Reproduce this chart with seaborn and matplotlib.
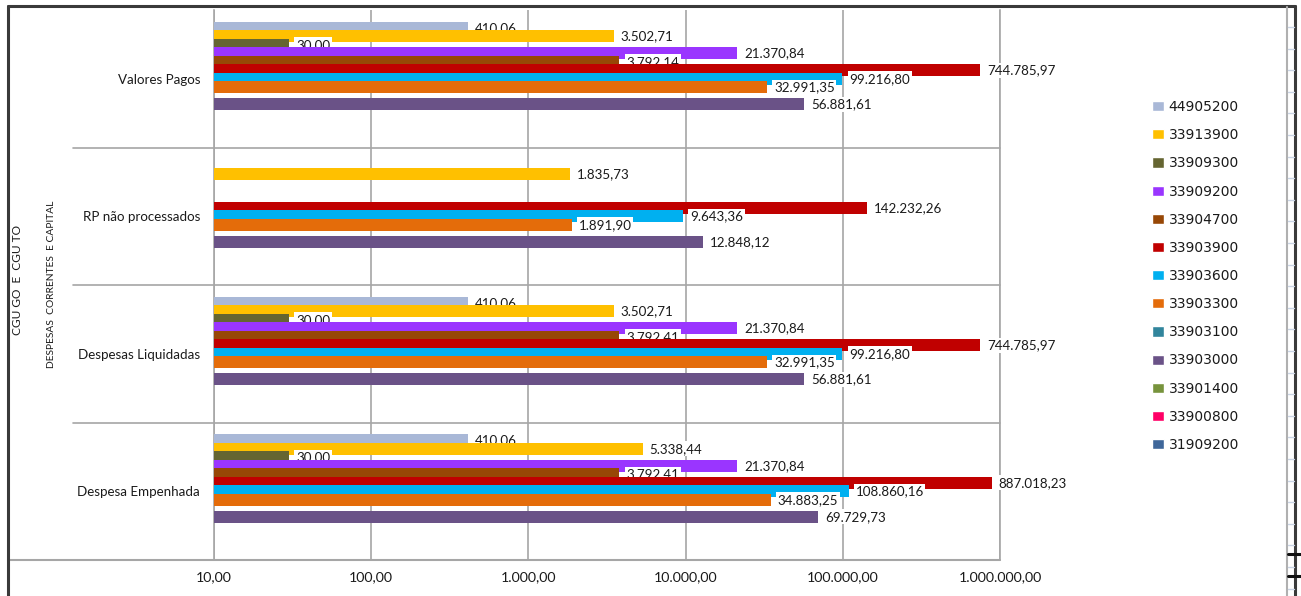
import numpy as np
import pandas as pd
import matplotlib
matplotlib.use("Agg")
import matplotlib.pyplot as plt
from matplotlib.colors import to_rgb
from matplotlib.lines import Line2D
from matplotlib.ticker import FixedLocator, FuncFormatter, NullLocator
import seaborn as sns

# ---- data -------------------------------------------------------------
categorias = ["Valores Pagos", "RP não processados",
              "Despesas Liquidadas", "Despesa Empenhada"]

contas = ["44905200", "33913900", "33909300", "33909200", "33904700",
          "33903900", "33903600", "33903300", "33903100", "33903000",
          "33901400", "33900800", "31909200"]

cores = ["#A9B8D7", "#FFC000", "#656531", "#9A35FF", "#974706",
         "#C00000", "#00B0F0", "#E46C0A", "#31859C", "#6A5287",
         "#77933C", "#FF0066", "#3F679A"]

# one list per account: values for each category (None = no value)
v_44905200 = [410.06, None, 410.06, 410.06]
v_33913900 = [3502.71, 1835.73, 3502.71, 5338.44]
v_33909300 = [30.00, None, 30.00, 30.00]
v_33909200 = [21370.84, None, 21370.84, 21370.84]
v_33904700 = [3792.14, None, 3792.41, 3792.41]
v_33903900 = [744785.97, 142232.26, 744785.97, 887018.23]
v_33903600 = [99216.80, 9643.36, 99216.80, 108860.16]
v_33903300 = [32991.35, 1891.90, 32991.35, 34883.25]
v_33903100 = [None, None, None, None]
v_33903000 = [56881.61, 12848.12, 56881.61, 69729.73]
v_33901400 = [None, None, None, None]
v_33900800 = [None, None, None, None]
v_31909200 = [None, None, None, None]

valores = [v_44905200, v_33913900, v_33909300, v_33909200, v_33904700,
           v_33903900, v_33903600, v_33903300, v_33903100, v_33903000,
           v_33901400, v_33900800, v_31909200]

ticks_x = [10, 100, 1000, 10000, 100000, 1000000]

rows = []
for conta, vals in zip(contas, valores):
    for cat, v in zip(categorias, vals):
        if v is not None:
            rows.append({"categoria": cat, "conta": conta, "valor": v})
df = pd.DataFrame(rows)


def br(v, _pos=None):
    s = f"{v:,.2f}"
    return s.replace(",", "X").replace(".", ",").replace("X", ".")


# ---- figure -----------------------------------------------------------
sns.set_style("white")
plt.rcParams["font.family"] = ["Lato", "DejaVu Sans"]

W, H = 1301, 596
fig = plt.figure(figsize=(W / 100, H / 100), dpi=100)
fig.patch.set_facecolor("white")
ax = fig.add_axes([214 / W, 1 - 560 / H, 786 / W, 550 / H])

n = len(contas)
passo = 0.0617
sns.barplot(data=df, y="categoria", x="valor", hue="conta",
            order=categorias, hue_order=contas, palette=cores,
            orient="h", width=n * passo, log_scale=True,
            saturation=1, errorbar=None, ax=ax, legend=True)

ax.set_xlim(10, 1_000_000)
ax.set_ylim(3.5, -0.5)


def indice_da_serie(container):
    """Series index of a bar container, identified by its fill colour."""
    cor = np.array(to_rgb(container.patches[0].get_facecolor()))
    dist = [np.abs(cor - np.array(to_rgb(c))).sum() for c in cores]
    return int(np.argmin(dist))


# thicker, overlapping bars; lower series sit over the upper ones.
# bars start at 1 (left of the visible range) so the log axis can draw them
alt = 0.088
grid_c = "#A6A6A6"
for cont in ax.containers:
    if len(cont.patches) == 0:
        continue
    idx = indice_da_serie(cont)
    for p in cont.patches:
        c = p.get_y() + p.get_height() / 2
        direita = p.get_x() + p.get_width()
        p.set_x(1.0)
        p.set_width(direita - 1.0)
        p.set_y(c - alt / 2)
        p.set_height(alt)
        p.set_linewidth(0)
        p.set_zorder(3 + 2 * idx)
    ax.bar_label(cont, fmt=br, padding=5, fontsize=9.6, color="#1a1a1a",
                 zorder=4 + 2 * idx,
                 bbox=dict(boxstyle="square,pad=0.12", fc="white", ec="none"))

# axes styling
ax.xaxis.set_major_locator(FixedLocator(ticks_x))
ax.xaxis.set_minor_locator(NullLocator())
ax.xaxis.set_major_formatter(FuncFormatter(br))
ax.grid(axis="x", color=grid_c, lw=1.2, zorder=0)
ax.grid(axis="y", visible=False)
ax.set_axisbelow(True)
ax.set_xlabel("")
ax.set_ylabel("")
for s in ["top", "bottom"]:
    ax.spines[s].set_visible(False)
for s in ["left", "right"]:
    ax.spines[s].set_color(grid_c)
    ax.spines[s].set_linewidth(1.2)
ax.tick_params(axis="x", length=5, width=1.2, color=grid_c, pad=3,
               labelsize=10.2, labelcolor="#1a1a1a")
ax.tick_params(axis="y", length=0, pad=10, labelsize=9.6, labelcolor="#1a1a1a")

# category separators, reaching into the label area
blend = ax.get_yaxis_transform()
x_sep = (73 - 214) / 786
for yv in [0.5, 1.5, 2.5]:
    ax.add_line(Line2D([x_sep, 1], [yv, yv], transform=blend, color=grid_c,
                       lw=1.2, clip_on=False, zorder=1))
x_base = (8 - 214) / 786
ax.add_line(Line2D([x_base, 1], [3.5, 3.5], transform=blend, color=grid_c,
                   lw=1.5, clip_on=False, zorder=1))

# outer grouping labels
fig.text(18 / W, 1 - 280 / H, "CGU GO  E  CGU TO", rotation=90,
         ha="center", va="center", fontsize=8.6, color="#1a1a1a")
fig.text(52 / W, 1 - 284 / H, "DESPESAS  CORRENTES  E CAPITAL", rotation=90,
         ha="center", va="center", fontsize=7.4, color="#1a1a1a")

# legend
sns.move_legend(ax, loc="upper left", bbox_to_anchor=(1152 / W, 1 - 100 / H),
                bbox_transform=fig.transFigure, frameon=False, title=None,
                prop={"family": "DejaVu Sans", "size": 10},
                handlelength=0.85, handleheight=0.75, handletextpad=0.35,
                labelspacing=1.02, borderaxespad=0, borderpad=0,
                labelcolor="#1a1a1a")

# chart frame and sheet edge
frame = dict(transform=fig.transFigure, color="#3a3a3a", lw=2.2)
fig.add_artist(Line2D([8 / W, 8 / W], [0, 1 - 6 / H], **frame))
fig.add_artist(Line2D([8 / W, 1295 / W], [1 - 6 / H, 1 - 6 / H], **frame))
fig.add_artist(Line2D([1295 / W, 1295 / W], [0, 1 - 6 / H], **frame))
fig.add_artist(Line2D([1287 / W, 1287 / W], [0, 1 - 7 / H],
                      transform=fig.transFigure, color="#B0B0B0", lw=1.5))
for yy in np.arange(27, 596, 21.6):
    fig.add_artist(Line2D([1288 / W, 1294 / W], [1 - yy / H, 1 - yy / H],
                          transform=fig.transFigure, color="#C9D3E3", lw=1))
for yy in [554, 576]:
    fig.add_artist(Line2D([1288 / W, 1301 / W], [1 - yy / H, 1 - yy / H],
                          transform=fig.transFigure, color="#111111", lw=2.2))

fig.savefig("out.png", dpi=100, facecolor="white")
